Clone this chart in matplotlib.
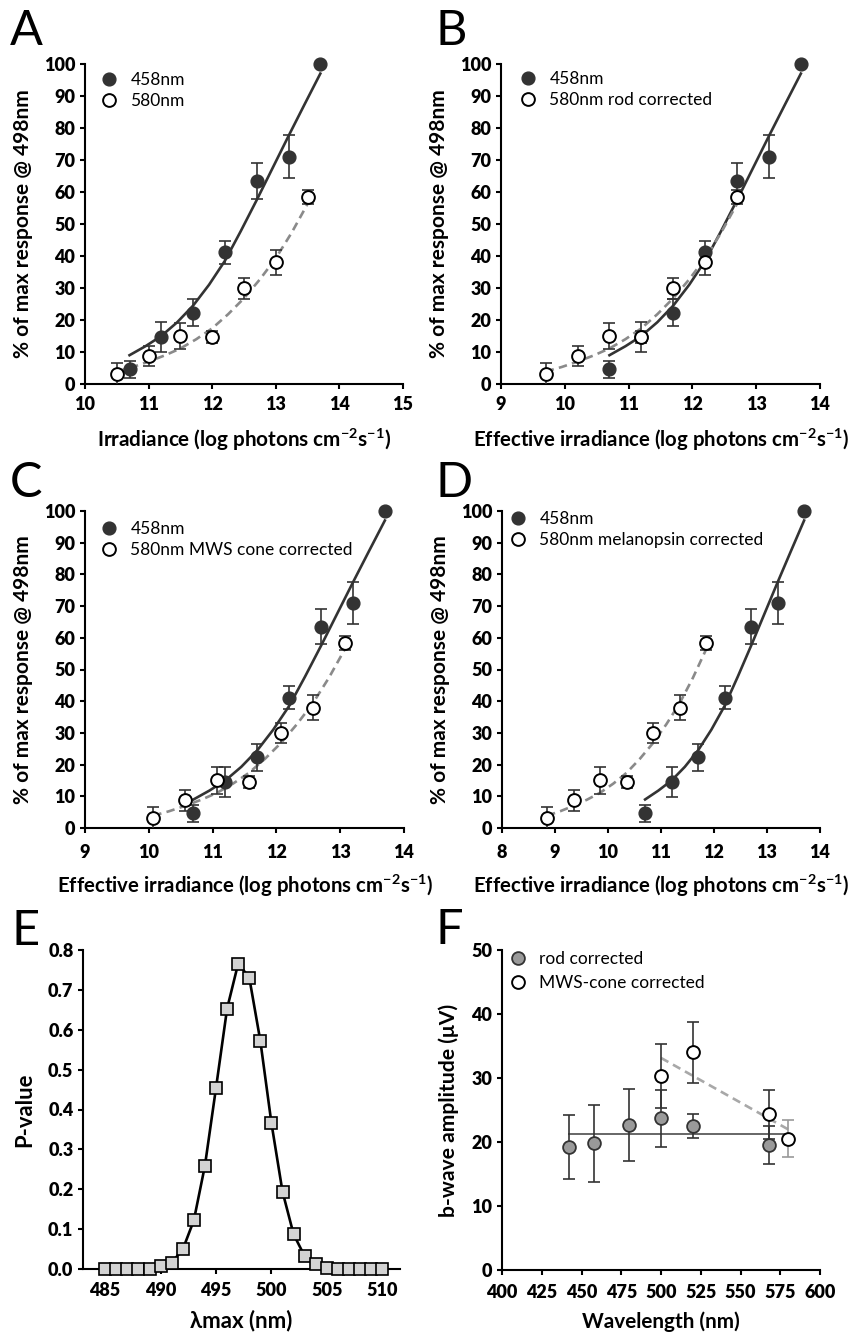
import matplotlib
matplotlib.use("Agg")
import matplotlib.pyplot as plt
from matplotlib.lines import Line2D
import numpy as np

# ---- data ----
irr_458 = [10.7, 11.2, 11.7, 12.2, 12.7, 13.2, 13.7]
resp_458 = [4.6, 14.6, 22.3, 41.1, 63.5, 71.0, 100.0]
err_458 = [2.7, 4.7, 4.3, 3.6, 5.6, 6.7, 0.0]

irr_580 = [10.5, 11.0, 11.5, 12.0, 12.5, 13.0, 13.5]
resp_580 = [3.1, 8.7, 15.0, 14.6, 29.9, 38.0, 58.5]
err_580 = [3.6, 3.2, 4.2, 1.9, 3.2, 4.0, 2.2]

# fitted response curves (panel A coordinates)
fit458_x = [10.7, 10.95, 11.2, 11.45, 11.7, 11.95, 12.2, 12.45, 12.7, 12.95, 13.2, 13.45, 13.7]
fit458_y = [9.0, 11.8, 15.0, 19.3, 24.5, 31.0, 38.5, 47.8, 57.5, 67.5, 77.5, 87.3, 97.0]
fit580_x = [10.5, 10.75, 11.0, 11.25, 11.5, 11.75, 12.0, 12.25, 12.5, 12.75, 13.0, 13.25, 13.5]
fit580_y = [3.9, 5.3, 7.0, 8.9, 11.1, 14.0, 17.4, 21.8, 26.8, 32.7, 39.3, 47.3, 56.3]

# log shift of the 580nm stimulus after each correction
panel_keys = ["A", "B", "C", "D"]
shift_580 = [0.0, -0.8, -0.43, -1.65]
label_580 = ["580nm", "580nm rod corrected", "580nm MWS cone corrected",
             "580nm melanopsin corrected"]
xlims = [(10, 15), (9, 14), (9, 14), (8, 14)]

lam_max = [485, 486, 487, 488, 489, 490, 491, 492, 493, 494, 495, 496, 497,
           498, 499, 500, 501, 502, 503, 504, 505, 506, 507, 508, 509, 510]
p_value = [0, 0, 0, 0, 0, 0.007, 0.016, 0.049, 0.122, 0.259, 0.454, 0.653, 0.766,
           0.731, 0.572, 0.366, 0.194, 0.087, 0.032, 0.012, 0.003, 0, 0, 0, 0, 0]
p_ticks = [0.0, 0.1, 0.2, 0.3, 0.4, 0.5, 0.6, 0.7, 0.8]

wl_rod = [442, 458, 480, 500, 520, 568]
amp_rod = [19.2, 19.8, 22.7, 23.7, 22.5, 19.5]
err_rod = [5.0, 6.0, 5.6, 4.5, 1.8, 3.0]
wl_mws = [500, 520, 568, 580]
amp_mws = [30.3, 34.0, 24.3, 20.5]
err_mws = [5.0, 4.8, 3.8, 2.9]

DARK = "#333333"
GREY = "#8a8a8a"
W, H = 852, 1332
FONT = "Lato"
TICK_WEIGHT = "heavy"

plt.rcParams.update({
    "font.family": [FONT, "DejaVu Sans"],
    "font.weight": "bold",
    "axes.labelweight": "bold",
    "mathtext.fontset": "custom",
    "mathtext.rm": FONT + ":bold",
    "mathtext.bf": FONT + ":bold",
    "axes.linewidth": 1.5,
    "xtick.major.width": 1.5,
    "ytick.major.width": 1.5,
    "xtick.major.size": 3.3,
    "ytick.major.size": 3.3,
    "ytick.major.pad": 3.6,
    "xtick.labelsize": 13,
    "ytick.labelsize": 13,
})


def rect(l, t, r, b):
    return [l / W, 1 - b / H, (r - l) / W, (b - t) / H]


def fig_xy(x, y):
    return (x / W, 1 - y / H)


def style(ax, xticks, yticks, ylabels=None, xpad=5.0):
    for side in ("top", "right"):
        ax.spines[side].set_visible(False)
    ax.tick_params(direction="out", colors="black")
    ax.tick_params(axis="x", pad=xpad)
    ax.set_xticks(xticks, labels=[str(t) for t in xticks], fontweight=TICK_WEIGHT)
    ax.set_yticks(yticks, labels=ylabels or [str(t) for t in yticks], fontweight=TICK_WEIGHT)


def legend(ax, handles, labels, anchor_px, spacing=0.3):
    ax.legend(handles, labels, loc="upper left", bbox_to_anchor=fig_xy(*anchor_px),
              bbox_transform=fig.transFigure, frameon=False, handlelength=1.0,
              handletextpad=0.75, borderpad=0, borderaxespad=0, labelspacing=spacing,
              prop={"weight": "normal", "size": 12.5})


fig = plt.figure(figsize=(W / 100, H / 100), dpi=100)
fit_targets = []  # (text, target width in px, vertical)

rects = [rect(85, 64, 403, 384), rect(501, 64, 820, 384),
         rect(85, 511, 404, 828), rect(502, 511, 820, 828)]
legend_px = [(100, 72), (519, 71), (100, 521), (509, 511)]
xlabel_A = r"Irradiance (log photons cm$^{-2}$s$^{-1}$)"
xlabel_eff = r"Effective irradiance (log photons cm$^{-2}$s$^{-1}$)"

axes = []
for i, key in enumerate(panel_keys):
    ax = fig.add_axes(rects[i])
    axes.append(ax)
    top_row = i < 2
    style(ax, list(range(xlims[i][0], xlims[i][1] + 1)), list(range(0, 101, 10)),
          xpad=5.5 if top_row else 8.0)
    x580 = np.array(irr_580) + shift_580[i]
    fx580 = np.array(fit580_x) + shift_580[i]
    ax.plot(fit458_x, fit458_y, color=DARK, lw=1.9, zorder=2)
    ax.plot(fx580, fit580_y, color=GREY, lw=1.9, ls=(0, (3.2, 2.0)), zorder=2.2)
    ax.errorbar(irr_458, resp_458, yerr=err_458, fmt="none", ecolor=DARK,
                elinewidth=1.2, capsize=4.5, capthick=1.2, zorder=3)
    ax.errorbar(x580, resp_580, yerr=err_580, fmt="none", ecolor=DARK,
                elinewidth=1.2, capsize=4.5, capthick=1.2, zorder=3)
    ax.plot(irr_458, resp_458, "o", ms=9.2, mfc=DARK, mec=DARK, clip_on=False, zorder=4)
    ax.plot(x580, resp_580, "o", ms=9.2, mfc="white", mec="black", mew=1.4,
            clip_on=False, zorder=4)
    ax.set_xlim(*xlims[i])
    ax.set_ylim(0, 100)
    yl = ax.set_ylabel("% of max response @ 498nm", fontsize=14)
    ax.yaxis.set_label_coords(-0.163, 0.5)
    xl = ax.set_xlabel(xlabel_A if i == 0 else xlabel_eff, fontsize=14)
    xl.set_va("center")
    ax.xaxis.set_label_coords(0.5, -0.175 if top_row else -0.183)
    fit_targets += [(yl, 270, True), (xl, 295 if i == 0 else 378, False)]
    h = [Line2D([], [], ls="none", marker="o", ms=9.2, mfc=DARK, mec=DARK),
         Line2D([], [], ls="none", marker="o", ms=9.2, mfc="white", mec="black", mew=1.4)]
    legend(ax, h, ["458nm", label_580[i]], legend_px[i])

# ---- E ----
axE = fig.add_axes(rect(83, 950, 400, 1269))
style(axE, list(range(485, 511, 5)), p_ticks, [f"{t:.1f}" for t in p_ticks], xpad=6.3)
axE.plot(lam_max, p_value, color="black", lw=1.9, zorder=2)
axE.plot(lam_max, p_value, "s", ms=8, mfc="#d3d3d3", mec="black", mew=1.2,
         ls="none", clip_on=False, zorder=4)
axE.set_xlim(483, 511.6)
axE.set_ylim(0, 0.8)
yl = axE.set_ylabel("P-value", fontsize=14)
axE.yaxis.set_label_coords(-0.151, 0.5)
xl = axE.set_xlabel("λmax (nm)", fontsize=14)
xl.set_va("center")
axE.xaxis.set_label_coords(0.5, -0.16)
fit_targets += [(yl, 75, True), (xl, 103, False)]

# ---- F ----
axF = fig.add_axes(rect(502, 950, 820, 1270))
style(axF, list(range(400, 601, 25)), list(range(0, 51, 10)), xpad=6.6)
rod_mean = np.mean(amp_rod)
axF.plot([min(wl_rod), max(wl_mws)], [rod_mean, rod_mean], color="#666666", lw=1.4, zorder=2)
slope, icpt = np.polyfit(wl_mws, amp_mws, 1)
xr = np.array([min(wl_mws), max(wl_mws)])
axF.plot(xr, slope * xr + icpt, color="#a8a8a8", lw=1.9, ls=(0, (3.2, 2.0)), zorder=2)
axF.errorbar(wl_rod, amp_rod, yerr=err_rod, fmt="none", ecolor=DARK,
             elinewidth=1.2, capsize=4.5, capthick=1.2, zorder=3)
axF.errorbar(wl_mws[:-1], amp_mws[:-1], yerr=err_mws[:-1], fmt="none", ecolor=DARK,
             elinewidth=1.2, capsize=4.5, capthick=1.2, zorder=3)
axF.errorbar(wl_mws[-1:], amp_mws[-1:], yerr=err_mws[-1:], fmt="none", ecolor="#999999",
             elinewidth=1.2, capsize=4.5, capthick=1.2, zorder=3)
axF.plot(wl_rod, amp_rod, "o", ms=9.2, mfc="#9a9a9a", mec=DARK, mew=1.3, ls="none", zorder=4)
axF.plot(wl_mws, amp_mws, "o", ms=9.2, mfc="white", mec="black", mew=1.4, ls="none", zorder=4)
axF.set_xlim(400, 600)
axF.set_ylim(0, 50)
yl = axF.set_ylabel("b-wave amplitude (μV)", fontsize=14)
axF.yaxis.set_label_coords(-0.135, 0.5)
xl = axF.set_xlabel("Wavelength (nm)", fontsize=14)
xl.set_va("center")
axF.xaxis.set_label_coords(0.5, -0.1625)
fit_targets += [(yl, 215, True), (xl, 160, False)]
hF = [Line2D([], [], ls="none", marker="o", ms=9.2, mfc="#9a9a9a", mec=DARK, mew=1.3),
      Line2D([], [], ls="none", marker="o", ms=9.2, mfc="white", mec="black", mew=1.4)]
legend(axF, hF, ["rod corrected", "MWS-cone corrected"], (509, 951), spacing=0.45)

# panel letters (baseline positions in px)
letters = [("A", 10, 45), ("B", 436, 45), ("C", 10, 497), ("D", 436, 497),
           ("E", 11, 945), ("F", 436, 944)]
for s, x, y in letters:
    fig.text(*fig_xy(x, y), s, fontsize=35, fontweight="normal", ha="left", va="baseline")

# scale axis titles to the widths they have in the source figure
fig.canvas.draw()
renderer = fig.canvas.get_renderer()
for txt, target, vertical in fit_targets:
    bb = txt.get_window_extent(renderer)
    cur = bb.height if vertical else bb.width
    txt.set_fontsize(txt.get_fontsize() * target / cur)
for ax in axes + [axE, axF]:
    for t in ax.get_xticklabels() + ax.get_yticklabels():
        t.set_fontweight(TICK_WEIGHT)

fig.savefig("out.png", dpi=100)
